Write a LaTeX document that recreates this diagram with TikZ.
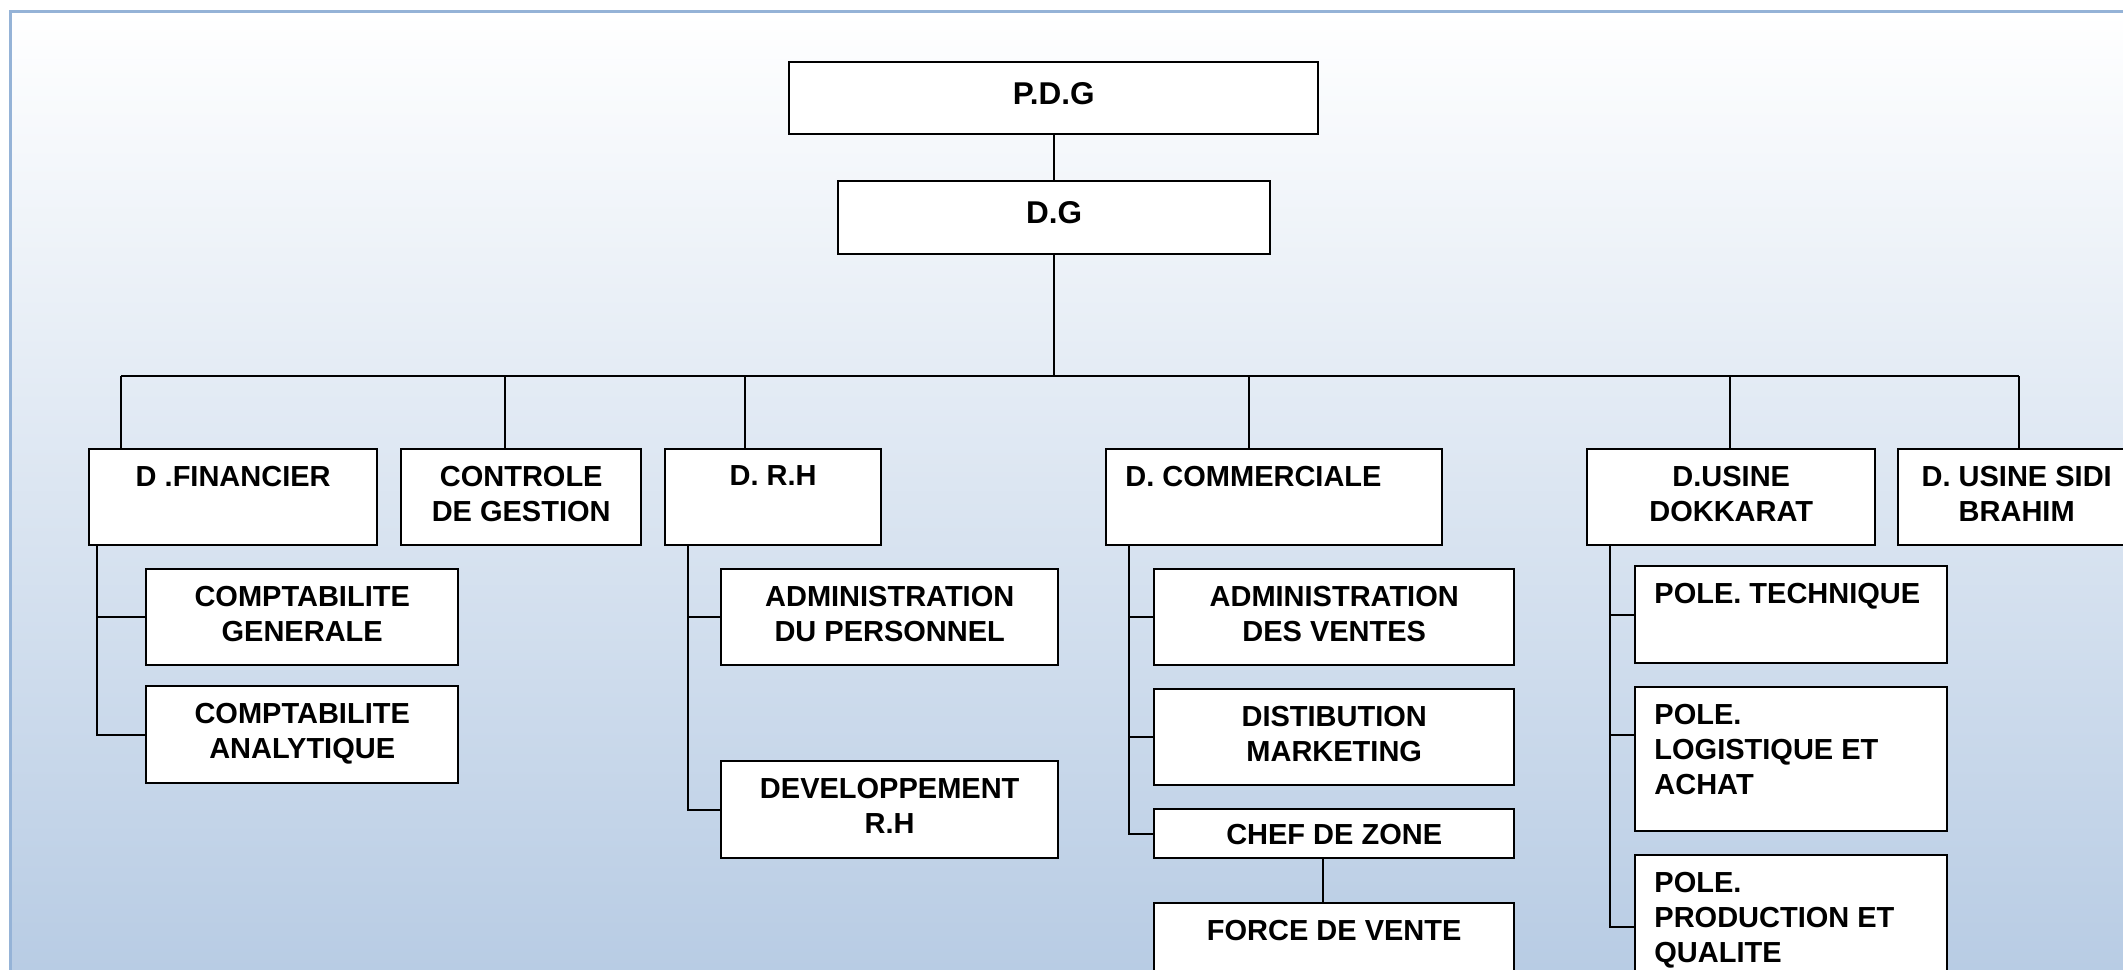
\documentclass[tikz,border=0pt]{standalone}
\usepackage{fontspec}
\setmainfont{Liberation Sans}
\usetikzlibrary{calc}

\definecolor{fondbleu}{HTML}{B8CCE4}
\definecolor{cadre}{HTML}{95B3D7}

\tikzset{
  poste/.style 2 args={draw=black, fill=white, line width=1.2pt, inner sep=0pt,
    anchor=north west, minimum width=#1*0.5pt, minimum height=#2*0.5pt},
  titre/.style={font=\bfseries\fontsize{14.5}{17.5}\selectfont, inner sep=0pt,
    align=center, anchor=north, yshift=-9pt},
  titreg/.style={titre, align=left, anchor=north west, xshift=10pt},
  grand/.style={titre, font=\bfseries\fontsize{15.75}{19}\selectfont, yshift=-1.5pt},
  lien/.style={line width=1pt},
}

\begin{document}
\begin{tikzpicture}[x=0.5pt, y=-0.5pt]
\useasboundingbox (0,0) rectangle (2123,969);
\clip (0,0) rectangle (2123,969);
% fond et cadre
\shade[top color=white, bottom color=fondbleu] (10.5,11.5) rectangle (2160,969);
\draw[cadre, line width=1.5pt] (10.5,990) |- (2160,11.5);

% direction
\node[poste={529}{72}] (pdg) at (788,61) {};
\node[grand] (pdg-t) at (pdg.north) {P.D.G};
\node[poste={432}{73}] (dg) at (837,180) {};
\node[grand] (dg-t) at (dg.north) {D.G};

% directions
\node[poste={288}{96.5}] (fin) at (88,447.5) {};
\node[titre] (fin-t) at (fin.north) {D .FINANCIER};
\node[poste={240}{96.5}] (ctrl) at (400,447.5) {};
\node[titre] (ctrl-t) at (ctrl.north) {CONTROLE\\DE GESTION};
\node[poste={216}{96.5}] (rh) at (664,447.5) {};
\node[titre] (rh-t) at (rh.north) {D. R.H};
\node[poste={336}{96.5}] (com) at (1105,447.5) {};
\node[titreg] (com-t) at (com.north west) {D. COMMERCIALE};
\node[poste={288}{96.5}] (dok) at (1586,447.5) {};
\node[titre] (dok-t) at (dok.north) {D.USINE\\DOKKARAT};
\node[poste={237}{96.5}] (sidi) at (1897,447.5) {};
\node[titre] (sidi-t) at (sidi.north) {D. USINE SIDI\\BRAHIM};

% services
\node[poste={312}{96}] (cg) at (145,568) {};
\node[titre] (cg-t) at (cg.north) {COMPTABILITE\\GENERALE};
\node[poste={312}{97}] (ca) at (145,685) {};
\node[titre] (ca-t) at (ca.north) {COMPTABILITE\\ANALYTIQUE};
\node[poste={337}{96}] (ap) at (720,568) {};
\node[titre] (ap-t) at (ap.north) {ADMINISTRATION\\DU PERSONNEL};
\node[poste={337}{97}] (dev) at (720,760) {};
\node[titre] (dev-t) at (dev.north) {DEVELOPPEMENT\\R.H};
\node[poste={360}{96}] (av) at (1153,568) {};
\node[titre] (av-t) at (av.north) {ADMINISTRATION\\DES VENTES};
\node[poste={360}{96}] (dm) at (1153,688) {};
\node[titre] (dm-t) at (dm.north) {DISTIBUTION\\MARKETING};
\node[poste={360}{49}] (chef) at (1153,808) {};
\node[titre, yshift=1pt] (chef-t) at (chef.north) {CHEF DE ZONE};
\node[poste={360}{96}] (fv) at (1153,902) {};
\node[titre] (fv-t) at (fv.north) {FORCE DE VENTE};
\node[poste={312}{97}] (tech) at (1634,565) {};
\node[titreg] (tech-t) at (tech.north west) {POLE. TECHNIQUE};
\node[poste={312}{144}] (log) at (1634,686) {};
\node[titreg] (log-t) at (log.north west) {POLE.\\LOGISTIQUE ET\\ACHAT};
\node[poste={312}{144}] (prod) at (1634,854) {};
\node[titreg] (prod-t) at (prod.north west) {POLE.\\PRODUCTION ET\\QUALITE};

% liaisons
\draw[lien] (pdg.south) -- (pdg.south |- dg.north);
\coordinate (bus) at (0,376);
\draw[lien] (dg.south) -- (dg.south |- bus);
\foreach \n/\dx in {fin/33,ctrl/105,rh/81,com/144,dok/144,sidi/121.6}
  \coordinate (\n-up) at ($(\n.north west)+(\dx,0)$);
\draw[lien] (fin-up |- bus) -- (sidi-up |- bus);
\foreach \n in {fin,ctrl,rh,com,dok,sidi}
  \draw[lien] (\n-up) -- (\n-up |- bus);

\draw[lien] ($(fin.south west)+(9,0)$) |- (cg.west)
  ($(fin.south west)+(9,0)$) |- (ca.west);
\draw[lien] ($(rh.south west)+(23.5,0)$) |- (ap.west)
  ($(rh.south west)+(23.5,0)$) |- (dev.west);
\draw[lien] ($(com.south west)+(24,0)$) |- (av.west)
  ($(com.south west)+(24,0)$) |- (dm.west)
  ($(com.south west)+(24,0)$) |- (chef.west);
\draw[lien] ($(dok.south west)+(23.6,0)$) |- (tech.west)
  ($(dok.south west)+(23.6,0)$) |- ([yshift=12pt]log.west)
  ($(dok.south west)+(23.6,0)$) |- (prod.west);
\draw[lien] ([xshift=-5.5pt]chef.south) -- ([xshift=-5.5pt]fv.north);
\end{tikzpicture}
\end{document}
